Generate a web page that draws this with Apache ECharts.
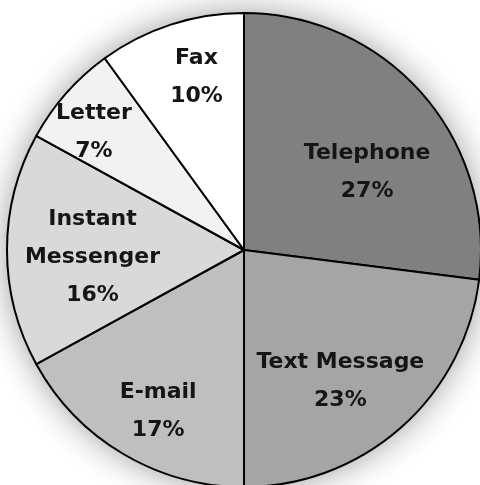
<!DOCTYPE html>
<html>
<head>
<meta charset="utf-8">
<script src="https://cdn.jsdelivr.net/npm/echarts@6/dist/echarts.min.js"></script>
<style>html,body{margin:0;padding:0;background:#fff}#c{width:480px;height:485px}</style>
</head>
<body>
<div id="c"></div>
<script>
var categories = ['Telephone', 'Text Message', 'E-mail', 'Instant Messenger', 'Letter', 'Fax'];
var values = [27, 23, 17, 16, 7, 10];
var colors = ['#808080', '#a5a5a5', '#bfbfbf', '#d9d9d9', '#f2f2f2', '#ffffff'];
var labelShift = [[32, 3], [16, 40], [-24, 57], [-30, 7], [-59, -37], [-10, -57]];

var chart = echarts.init(document.getElementById('c'), null, {renderer: 'canvas'});
var data = categories.map(function (n, i) {
  return {name: n, value: values[i], itemStyle: {color: colors[i]}};
});
chart.setOption({
  animation: false,
  backgroundColor: '#ffffff',
  series: [
    {
      type: 'pie', silent: true, center: [244, 250], radius: 237,
      label: {show: false}, labelLine: {show: false},
      itemStyle: {color: '#ffffff', shadowBlur: 34, shadowColor: 'rgba(0,0,0,0.4)'},
      data: [{name: '', value: 1}], z: 1
    },
    {
      type: 'pie', center: [244, 250], radius: 237, startAngle: 90, clockwise: true,
      z: 2,
      itemStyle: {borderColor: '#000', borderWidth: 2},
      label: {
        show: true, position: 'inside',
        fontFamily: 'DejaVu Sans', fontWeight: 'bold', fontSize: 22,
        lineHeight: 38, color: '#151515', align: 'center',
        formatter: function (p) {
          var n = p.name === 'Instant Messenger' ? 'Instant\nMessenger' : p.name;
          return n + '\n' + p.value + '%';
        }
      },
      labelLine: {show: false},
      labelLayout: function (p) {
        var s = labelShift[p.dataIndex];
        return {dx: s[0], dy: s[1]};
      },
      data: data
    }
  ]
});
</script>
</body>
</html>
